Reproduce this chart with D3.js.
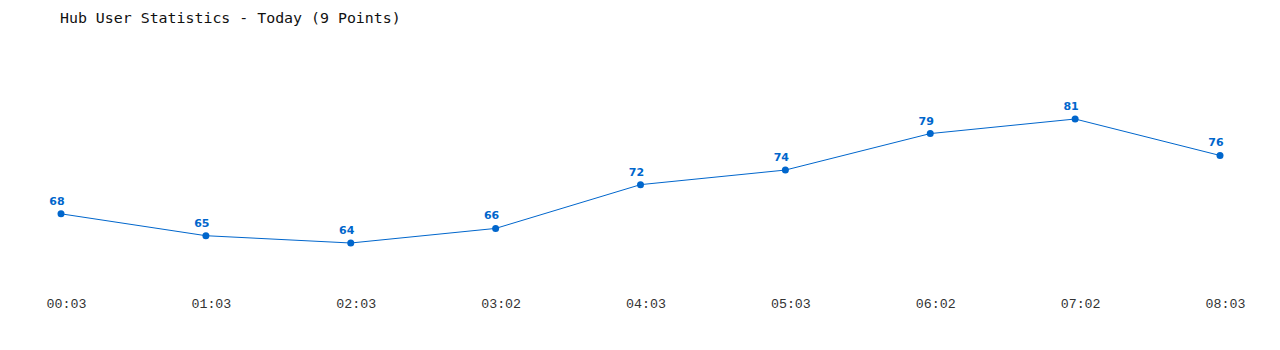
<!DOCTYPE html>
<html><head><meta charset="utf-8">
<script src="https://cdn.jsdelivr.net/npm/d3@7"></script>
<style>body{margin:0;background:#fff}svg{display:block}</style>
</head><body>
<div id="chart"></div>
<script>
const title = "Hub User Statistics - Today (9 Points)";
const times = ["00:03","01:03","02:03","03:02","04:03","05:03","06:02","07:02","08:03"];
const users = [68,65,64,66,72,74,79,81,76];

const W = 1280, H = 350;
const svg = d3.select("#chart").append("svg").attr("width", W).attr("height", H);

const x = d3.scalePoint().domain(times).range([61, 1220]);
const y = d3.scaleLinear().domain([64, 81]).range([243, 119]);

svg.append("text").attr("x", 60).attr("y", 23)
  .attr("font-family", "DejaVu Sans Mono, monospace").attr("font-size", 14.9)
  .attr("fill", "#111").text(title);

const xAxis = d3.axisBottom(x).tickSize(0).tickPadding(0);
const gx = svg.append("g").attr("transform", "translate(5,308)").call(xAxis);
gx.select(".domain").remove();
gx.selectAll("text").attr("font-family", "Liberation Mono, monospace")
  .attr("font-size", 13.3).attr("fill", "#333").attr("dy", 0);

const line = d3.line().x((d,i) => x(times[i])).y(d => y(d));
svg.append("path").datum(users).attr("d", line)
  .attr("fill", "none").attr("stroke", "#0066cc").attr("stroke-width", 1);

svg.selectAll("circle.pt").data(users).enter().append("circle")
  .attr("cx", (d,i) => x(times[i])).attr("cy", d => y(d)).attr("r", 3.5)
  .attr("fill", "#0066cc");

svg.selectAll("text.val").data(users).enter().append("text")
  .attr("x", (d,i) => x(times[i]) - 4).attr("y", d => y(d) - 9)
  .attr("text-anchor", "middle")
  .attr("font-family", "DejaVu Sans, Verdana, sans-serif").attr("font-weight", "bold")
  .attr("font-size", 11).attr("fill", "#0066cc").text(d => d);
</script>
</body></html>
